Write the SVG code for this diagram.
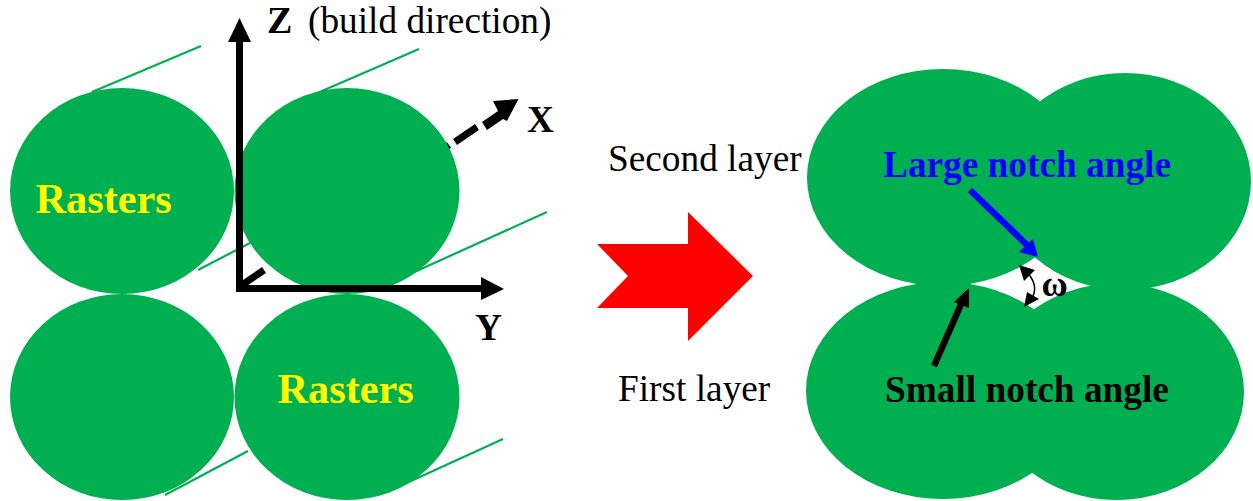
<svg xmlns="http://www.w3.org/2000/svg" width="1253" height="501" viewBox="0 0 1253 501">
<style>
.r{fill:#00b050;stroke:none}
.gl{stroke:#00b050;stroke-width:2.200;fill:none}
text{font-family:"Liberation Serif",serif}
.h{font-weight:bold;font-size:37.300px}
.n{font-size:37.300px;fill:#000}
.y{fill:#ff0;font-size:42.300px;font-weight:bold}
.ax{stroke:#000;stroke-width:7;fill:none}
</style>
<rect width="1253" height="501" fill="#fff"/>
<g id="connectors-back">
<path class="gl" d="M92 92L201 46M315 94L419 49M198 270L250 243M410 274L547 212M165 495L248 451M400 486L503 439"/>
<path class="ax" d="M239 287L264 270"/>
<path class="ax" d="M442 150L449 145M455 142L477 127"/>
<path d="M518.500 99L493 101L498 111L482 122L487 130L503 119L507 121Z" fill="#000"/>
</g>
<g id="raster-1"><ellipse class="r" cx="122" cy="191" rx="112" ry="103"/></g>
<g id="raster-2"><ellipse class="r" cx="347" cy="191" rx="112.500" ry="103"/></g>
<g id="raster-3"><ellipse class="r" cx="122" cy="397" rx="112" ry="103"/></g>
<g id="raster-4"><ellipse class="r" cx="347" cy="397" rx="112.500" ry="103"/></g>
<g id="raster-labels">
<text class="y" x="35.500" y="213">Rasters</text>
<text class="y" x="277.500" y="403">Rasters</text>
</g>
<g id="axes">
<path class="ax" d="M239.500 292V40"/>
<path class="ax" d="M236 288.500H483"/>
<path d="M239.500 18L251 42H228Z" fill="#000"/>
<path d="M504 289L481 277V300Z" fill="#000"/>
<text class="h" style="font-size:38px" x="267" y="33">Z</text>
<text class="n" x="308" y="33">(build direction)</text>
<text class="h" x="527" y="132">X</text>
<text class="h" x="475" y="340">Y</text>
</g>
<g id="red-arrow"><path d="M597 244H688V212L753 276L688 341V308H597L628 276Z" fill="#f00"/></g>
<g id="layer-labels">
<text class="n" x="608" y="171">Second layer</text>
<text class="n" x="618" y="401">First layer</text>
</g>
<g id="bead-upper-left"><ellipse class="r" cx="943" cy="177.500" rx="136" ry="108.500"/></g>
<g id="bead-upper-right"><ellipse class="r" cx="1125" cy="181.500" rx="126" ry="108.500"/></g>
<g id="bead-lower-left"><ellipse class="r" cx="943" cy="390.500" rx="137" ry="108.500"/></g>
<g id="bead-lower-right"><ellipse class="r" cx="1116.500" cy="391.750" rx="127.500" ry="108.250"/></g>
<g id="notch-labels">
<text class="h" fill="#00f" x="883" y="176.500">Large notch angle</text>
<text class="h" fill="#000" x="885" y="401.500">Small notch angle</text>
<text class="h" fill="#000" style="font-size:36px" x="1041.500" y="296">ω</text>
</g>
<g id="notch-arrows">
<path d="M970 190L1027 245" stroke="#00f" stroke-width="6.500" fill="none"/>
<path d="M1038 257L1033 239L1019 252Z" fill="#00f"/>
<path d="M934 366L962 302" stroke="#000" stroke-width="6.500" fill="none"/>
<path d="M969 288L954 302L969 308Z" fill="#000"/>
<path d="M1026 271Q1041 287 1030 301" stroke="#000" stroke-width="1.500" fill="none"/>
<path d="M1019 265L1035 270L1024 281Z" fill="#000"/>
<path d="M1024 307L1039 299L1027 292Z" fill="#000"/>
</g>
</svg>
